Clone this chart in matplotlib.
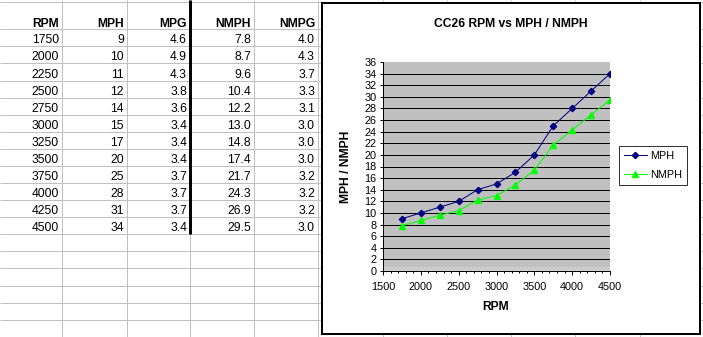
import numpy as np
import matplotlib
matplotlib.use("Agg")
import matplotlib.pyplot as plt
from matplotlib.patches import Rectangle

plt.rcParams['font.family'] = ['Liberation Sans', 'DejaVu Sans']

# table / chart values
headers = ['RPM', 'MPH', 'MPG', 'NMPH', 'NMPG']
rpm = [1750, 2000, 2250, 2500, 2750, 3000, 3250, 3500, 3750, 4000, 4250, 4500]
mph = [9, 10, 11, 12, 14, 15, 17, 20, 25, 28, 31, 34]
mpg = [4.6, 4.9, 4.3, 3.8, 3.6, 3.4, 3.4, 3.4, 3.7, 3.7, 3.7, 3.4]
nmph = [7.8, 8.7, 9.6, 10.4, 12.2, 13.0, 14.8, 17.4, 21.7, 24.3, 26.9, 29.5]
nmpg = [4.0, 4.3, 3.7, 3.3, 3.1, 3.0, 3.0, 3.0, 3.2, 3.2, 3.2, 3.0]
col_fmt = ['{:d}', '{:d}', '{:.1f}', '{:.1f}', '{:.1f}']

W, H = 703, 337
fs = 8.7
fs_small = 7.8
px = 72 / 100  # points per pixel

fig = plt.figure(figsize=(W / 100, H / 100), dpi=100)
fig.patch.set_facecolor('white')

# spreadsheet background, in pixel coordinates
bg = fig.add_axes([0, 0, 1, 1])
bg.set_xlim(0, W)
bg.set_ylim(H, 0)
bg.axis('off')

col_edges = [62, 127, 190, 254, 318, 383, 447, 511, 575, 640]
row0, row_h = 29.3, 17.08
row_lines = [2] + [row0 + row_h * k for k in range(19)]
grid_c = '#c0c0c0'
bg.hlines(row_lines, 0, W, color=grid_c, lw=px)
bg.vlines(col_edges, 0, H, color=grid_c, lw=px)
bg.vlines(190, 0, row0 + row_h * 12, color='black', lw=3 * px)

# table text, right aligned in each cell
columns = [rpm, mph, mpg, nmph, nmpg]
for c, (name, vals, fmt) in enumerate(zip(headers, columns, col_fmt)):
    xr = col_edges[c] - 3
    bg.text(xr, row0 - 2.6, name, ha='right', va='baseline',
            fontsize=fs, fontweight='bold')
    for i, v in enumerate(vals):
        bg.text(xr, row0 + row_h * (i + 1) - 3, fmt.format(v),
                ha='right', va='baseline', fontsize=fs)

# chart object frame
bg.add_patch(Rectangle((322, 3), 378, 331, facecolor='white',
                       edgecolor='black', lw=2 * px, zorder=3))

# chart plot area
x0, x1, y0, y1 = 383, 610, 62, 271
ax = fig.add_axes([x0 / W, 1 - y1 / H, (x1 - x0) / W, (y1 - y0) / H])
ax.set_facecolor('#c0c0c0')
ax.set_xlim(1500, 4500)
ax.set_ylim(0, 36)
ax.axhspan(0, 0.75, facecolor='#c8c8c8', edgecolor='#dedede',
           hatch='....', lw=0, zorder=0.5)
ax.hlines(np.arange(2, 36, 2), 1500, 4500, color='black', lw=px, zorder=1)

ax.plot(rpm, mph, color='#000080', lw=px, marker='D', markersize=3.2,
        label='MPH', zorder=3)
ax.plot(rpm, nmph, color='#00ff00', lw=px, marker='^', markersize=4.6,
        label='NMPH', zorder=3)

ax.set_yticks(np.arange(0, 37, 2))
ax.set_xticks(np.arange(1500, 4501, 500))
ax.set_xticks(np.arange(1500, 4501, 100), minor=True)
ax.tick_params(axis='y', direction='out', length=3 * px, width=px,
               pad=2.4, labelsize=fs_small)
ax.tick_params(axis='x', which='major', direction='out', length=4 * px,
               width=px, pad=5.2, labelsize=fs_small)
ax.tick_params(axis='x', which='minor', direction='out', length=2 * px,
               width=px)
for s in ['top', 'right']:
    ax.spines[s].set_visible(False)
for s in ['left', 'bottom']:
    ax.spines[s].set_linewidth(px)
    ax.spines[s].set_color('black')

fig.text(511 / W, 1 - 24 / H, 'CC26 RPM vs MPH / NMPH', ha='center',
         va='center', fontsize=fs, fontweight='bold')
fig.text(496 / W, 1 - 307 / H, 'RPM', ha='center', va='center',
         fontsize=fs, fontweight='bold')
fig.text(346 / W, 1 - 166.5 / H, 'MPH / NMPH', ha='center', va='center',
         rotation=90, fontsize=fs, fontweight='bold')

leg = ax.legend(loc='upper left', bbox_to_anchor=(619 / W, 1 - 146 / H),
                bbox_transform=fig.transFigure, fontsize=fs_small,
                frameon=True, fancybox=False, borderaxespad=0,
                borderpad=0.45, handlelength=2.1, handletextpad=0.3,
                labelspacing=0.85)
leg.get_frame().set_edgecolor('black')
leg.get_frame().set_linewidth(px)

fig.savefig('out.png', dpi=100)
